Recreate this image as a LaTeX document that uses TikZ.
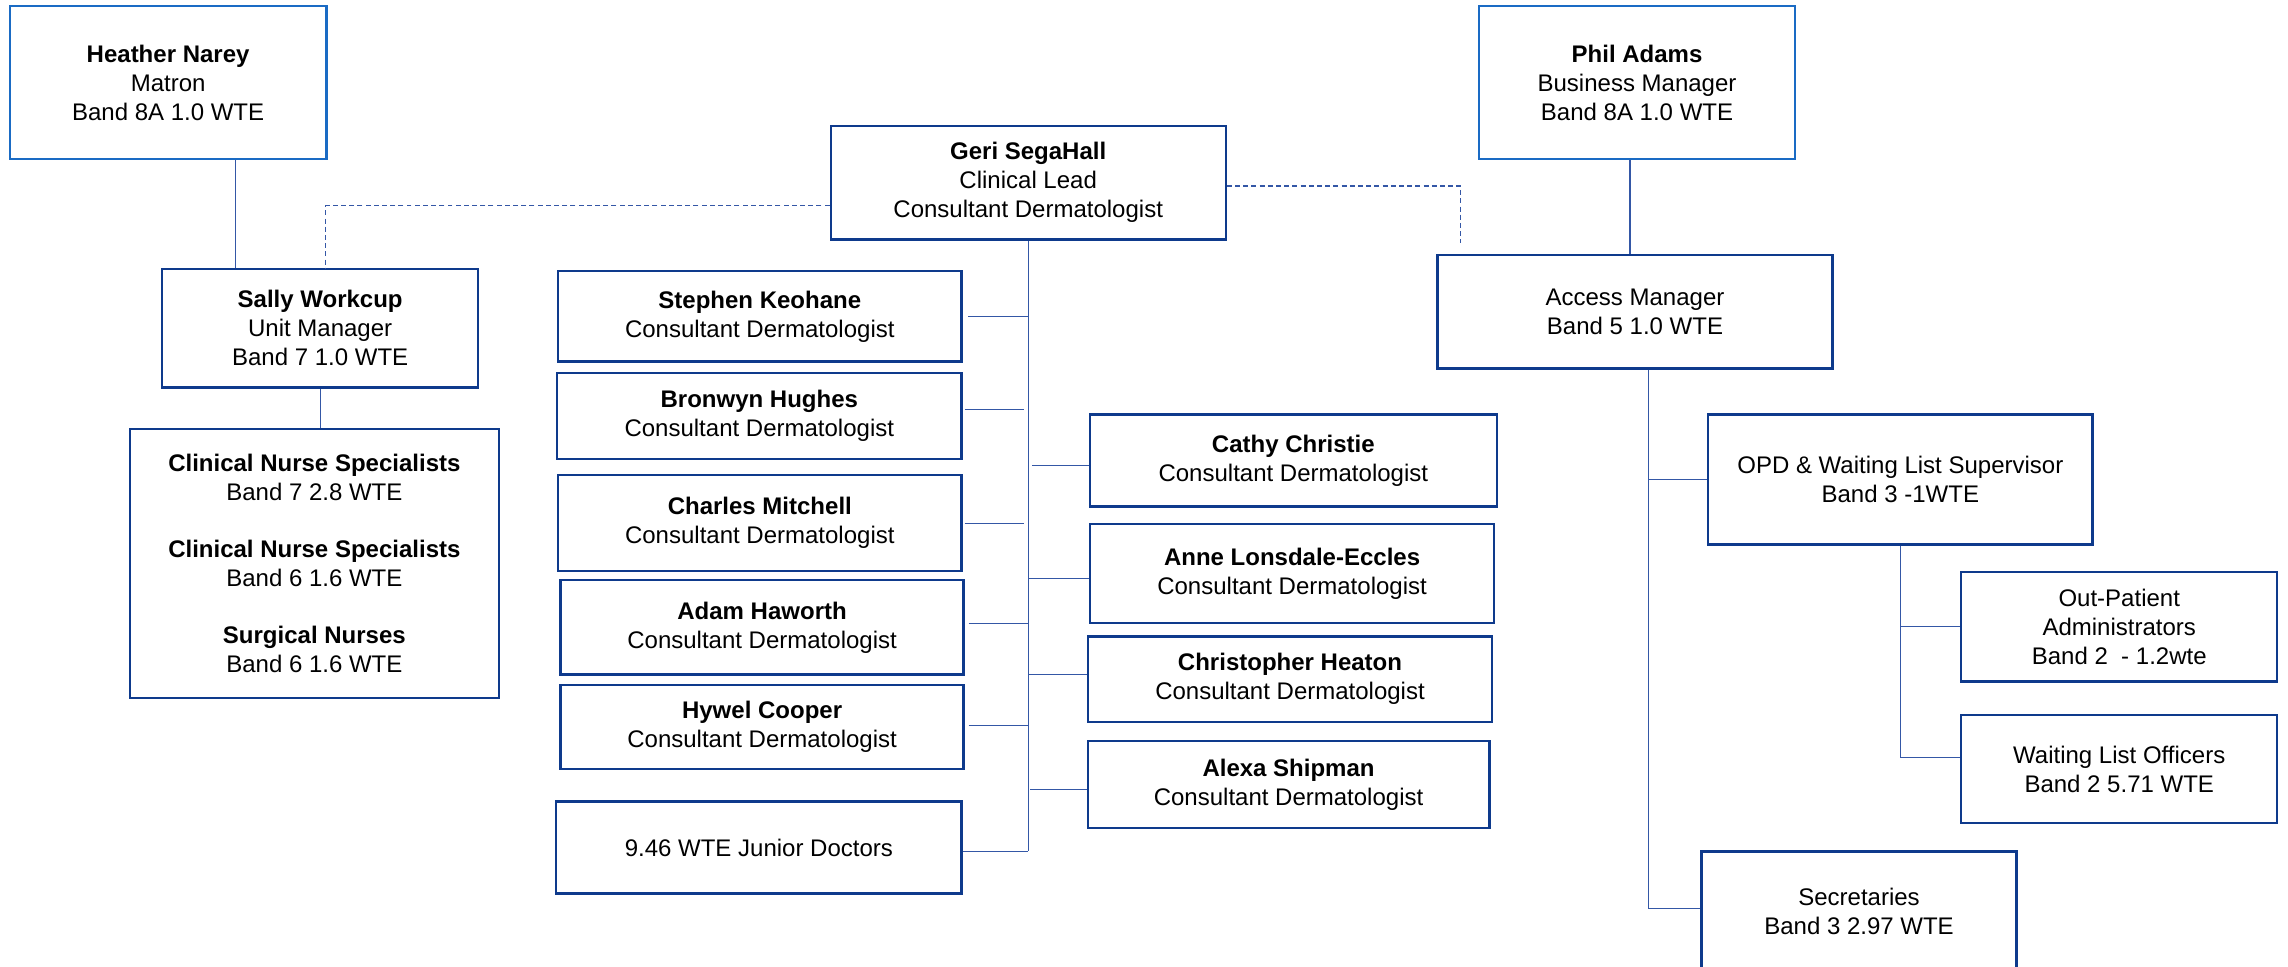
\documentclass[tikz,border=0pt]{standalone}
\usepackage{fontspec}
\setmainfont{Liberation Sans}
\definecolor{navy}{HTML}{0E3A8C}
\definecolor{lightblue}{HTML}{1A6BC4}
\definecolor{linkblue}{HTML}{3457A6}
\newcommand{\fsz}{\fontsize{16.4}{19.8}\selectfont}
\tikzset{
  box/.style={draw=navy, line width=1.6pt, align=center, inner sep=0pt, font=\fsz, fill=white},
  topbox/.style={box, draw=lightblue, line width=1.8pt},
  link/.style={draw=linkblue, line width=0.8pt},
  dotlink/.style={draw=linkblue, line width=0.8pt, dash pattern=on 3.4pt off 2.2pt}
}
\begin{document}
\begin{tikzpicture}[x=1pt,y=-1pt]
\useasboundingbox[fill=white] (0,0) rectangle (1563,660);
% top managers
\node[topbox, minimum width=216.1, minimum height=104.4] (heather) at (114.85,56.4) {\textbf{Heather Narey}\\Matron\\Band 8A 1.0 WTE};
\node[topbox, minimum width=216, minimum height=104.4] (phil) at (1118.3,56.4) {\textbf{Phil Adams}\\Business Manager\\Band 8A 1.0 WTE};
\node[box, minimum width=269.8, minimum height=77.8] (geri) at (702.4,124.8) {\textbf{Geri SegaHall}\\Clinical Lead\\Consultant Dermatologist};
% nursing
\node[box, minimum width=215.8, minimum height=80.8] (sally) at (218.7,224.3) {\textbf{Sally Workcup}\\Unit Manager\\Band 7 1.0 WTE};
\node[box, minimum width=252.1, minimum height=183.9] (nurses) at (214.75,384.9) {\textbf{Clinical Nurse Specialists}\\Band 7 2.8 WTE\\[19.3pt]\textbf{Clinical Nurse Specialists}\\Band 6 1.6 WTE\\[19.3pt]\textbf{Surgical Nurses}\\Band 6 1.6 WTE};
% consultants left
\node[box, minimum width=275.5, minimum height=61.8] (stephen) at (519.05,216.1) {\textbf{Stephen Keohane}\\Consultant Dermatologist};
\node[box, minimum width=276.2, minimum height=58.9] (bronwyn) at (518.7,284.05) {\textbf{Bronwyn Hughes}\\Consultant Dermatologist};
\node[box, minimum width=275.5, minimum height=65.6] (charles) at (519.05,357.3) {\textbf{Charles Mitchell}\\Consultant Dermatologist};
\node[box, minimum width=275.2, minimum height=64.4] (adam) at (520.6,428.6) {\textbf{Adam Haworth}\\Consultant Dermatologist};
\node[box, minimum width=275.2, minimum height=57.2] (hywel) at (520.6,496.6) {\textbf{Hywel Cooper}\\Consultant Dermatologist};
\node[box, minimum width=276.8, minimum height=62.8] (junior) at (518.4,578.9) {9.46 WTE Junior Doctors};
% consultants right
\node[box, minimum width=278, minimum height=62.8] (cathy) at (883.5,314.6) {\textbf{Cathy Christie}\\Consultant Dermatologist};
\node[box, minimum width=276.3, minimum height=67.4] (anne) at (882.65,391.8) {\textbf{Anne Lonsdale-Eccles}\\Consultant Dermatologist};
\node[box, minimum width=276.3, minimum height=58.5] (christopher) at (881.25,463.95) {\textbf{Christopher Heaton}\\Consultant Dermatologist};
\node[box, minimum width=274.3, minimum height=59.3] (alexa) at (880.25,535.95) {\textbf{Alexa Shipman}\\Consultant Dermatologist};
% admin
\node[box, minimum width=269.8, minimum height=77.5] (access) at (1116.9,212.95) {Access Manager\\Band 5 1.0 WTE};
\node[box, minimum width=262.7, minimum height=88.8] (opd) at (1298.15,327.6) {OPD \& Waiting List Supervisor\\Band 3 -1WTE};
\node[box, minimum width=215.8, minimum height=74.9] (outpatient) at (1447.7,428.05) {Out-Patient\\Administrators\\Band 2\ \ - 1.2wte};
\node[box, minimum width=215.8, minimum height=73.7] (waiting) at (1447.7,525.45) {Waiting List Officers\\Band 2 5.71 WTE};
\node[box, minimum width=215.1, minimum height=82.4] (secretaries) at (1269.95,622.8) {Secretaries\\Band 3 2.97 WTE};
% solid reporting lines
\draw[link] ([xshift=45.85]heather.south) -- ([xshift=45.85]heather.south |- sally.north);
\draw[link] (sally.south) -- (sally.south |- nurses.north);
\draw[link] ([xshift=-4.8]phil.south) -- ([xshift=-4.8]phil.south |- access.north);
% dotted lines from clinical lead
\draw[dotlink] ([yshift=-15.8]geri.west) -| ([xshift=3.9]sally.north);
\coordinate (dashend) at (997.7,166);
\draw[dotlink] ([yshift=-2.3]geri.east) -| (dashend);
% consultants trunk
\coordinate (gt) at (geri.south);
\coordinate (gb) at (702.4,581.6);
\draw[link] (gt) -- (gb);
\draw[link] ([xshift=4]stephen.east) -- (stephen.east -| gt);
\draw[link] ([xshift=1.3,yshift=4.15]bronwyn.east) -- ([xshift=-2.8,yshift=4.15]bronwyn.east -| gt);
\draw[link] ([xshift=1.3,yshift=-0.4]charles.east) -- ([xshift=-2.8,yshift=-0.4]charles.east -| gt);
\draw[link] ([xshift=2.7,yshift=2.7]adam.east) -- ([yshift=2.7]adam.east -| gt);
\draw[link] ([xshift=2.7,yshift=0.8]hywel.east) -- ([yshift=0.8]hywel.east -| gt);
\draw[link] ([yshift=-2.7]junior.east) -- ([yshift=-2.7]junior.east -| gt);
\draw[link] ([yshift=-3.6]cathy.west) -- ([xshift=2.3,yshift=-3.6]cathy.west -| gt);
\draw[link] ([yshift=-3.4]anne.west) -- ([yshift=-3.4]anne.west -| gt);
\draw[link] ([yshift=3.15]christopher.west) -- ([yshift=3.15]christopher.west -| gt);
\draw[link] ([yshift=-3.55]alexa.west) -- ([xshift=1.3,yshift=-3.55]alexa.west -| gt);
% access trunk
\coordinate (at) at ([xshift=9.5]access.south);
\draw[link] (at) -- ([yshift=2]at |- secretaries.west);
\draw[link] (opd.west) -- (opd.west -| at);
\draw[link] ([yshift=2]secretaries.west) -- ([yshift=2]secretaries.west -| at);
% opd trunk
\coordinate (ot) at (opd.south);
\draw[link] (ot) -- ([yshift=7.75]ot |- waiting.west);
\draw[link] (outpatient.west) -- (outpatient.west -| ot);
\draw[link] ([yshift=7.75]waiting.west) -- ([yshift=7.75]waiting.west -| ot);
\end{tikzpicture}
\end{document}
